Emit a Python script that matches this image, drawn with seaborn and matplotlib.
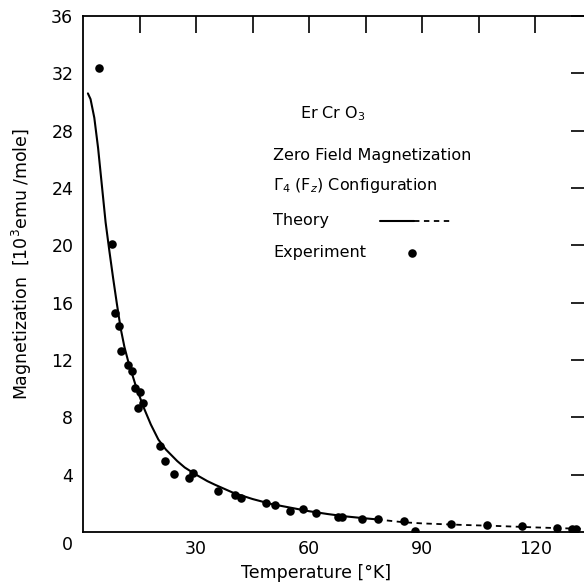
import matplotlib
matplotlib.use("Agg")
import matplotlib.pyplot as plt
import seaborn as sns
import pandas as pd
from matplotlib.ticker import FixedLocator

sns.set_theme(style="white")
plt.rcParams['font.family'] = ['DejaVu Sans']
plt.rcParams['text.color'] = 'black'
plt.rcParams['axes.labelcolor'] = 'black'

# Experimental points (temperature K, magnetization 10^3 emu/mole)
exp_T = [4.2, 7.6, 8.5, 9.6, 10.1, 11.9, 13.1, 13.9, 15.2, 14.5, 15.9,
         20.3, 21.8, 24.2, 28.0, 29.1, 35.8, 40.2, 41.9, 48.6, 51.0,
         54.8, 58.3, 61.9, 67.6, 68.7, 74.1, 78.2, 85.1, 88.2,
         97.7, 107.2, 116.4, 125.8, 129.8, 130.8]
exp_M = [32.4, 20.07, 15.26, 14.37, 12.63, 11.65, 11.26, 10.02, 9.79, 8.67, 8.98,
         6.0, 4.98, 4.05, 3.74, 4.14, 2.84, 2.58, 2.35, 2.05, 1.90,
         1.49, 1.58, 1.30, 1.07, 1.07, 0.93, 0.88, 0.77, 0.07,
         0.53, 0.46, 0.44, 0.30, 0.19, 0.19]

# Theory curve (solid part)
th_T = [1.3, 2.0, 3.0, 4.0, 5.0, 6.0, 7.0, 8.0, 9.0, 10.0, 11.0, 12.0, 14.0,
        16.0, 18.0, 20.0, 22.0, 25.0, 27.0, 30.0, 33.0, 35.0, 40.0, 45.0, 50.0,
        55.0, 60.0, 65.0, 70.0, 75.0, 78.0]
th_M = [30.6, 30.2, 28.9, 26.8, 24.2, 21.6, 19.6, 17.7, 15.9, 14.2, 12.9, 11.9, 10.2,
        8.75, 7.5, 6.45, 5.75, 4.95, 4.5, 4.0, 3.55, 3.3, 2.72, 2.3, 1.95,
        1.7, 1.45, 1.25, 1.08, 0.95, 0.88]
# Theory curve (dashed extension)
thd_T = [78.0, 85.0, 90.0, 100.0, 110.0, 120.0, 130.0, 134.0]
thd_M = [0.88, 0.68, 0.60, 0.50, 0.42, 0.32, 0.24, 0.22]

x_ticklabels = ["30", "60", "90", "120"]
y_ticklabels = ["4", "8", "12", "16", "20", "24", "28", "32", "36"]

fig = plt.figure(figsize=(5.84, 5.85), dpi=100)
ax = fig.add_axes([83/584, 1-532/585, (588-83)/584, (532-16)/585])

df_exp = pd.DataFrame({"T": exp_T, "M": exp_M})
df_th = pd.DataFrame({"T": th_T, "M": th_M})
df_thd = pd.DataFrame({"T": thd_T, "M": thd_M})

sns.lineplot(data=df_th, x="T", y="M", ax=ax, color="black", lw=1.5,
             sort=False, estimator=None)
sns.lineplot(data=df_thd, x="T", y="M", ax=ax, color="black", lw=1.3,
             sort=False, estimator=None, linestyle=(0, (3, 2.5)))
sns.scatterplot(data=df_exp, x="T", y="M", ax=ax, color="black", s=38,
                edgecolor="black", linewidth=0, zorder=5)

ax.set_xlim(0, 134)
ax.set_ylim(0, 36)

ax.xaxis.set_major_locator(FixedLocator([30, 60, 90, 120]))
ax.set_xticklabels(x_ticklabels)
ax.xaxis.set_minor_locator(FixedLocator([15, 45, 75, 105]))
ax.yaxis.set_major_locator(FixedLocator([4, 8, 12, 16, 20, 24, 28, 32, 36]))
ax.set_yticklabels(y_ticklabels)

ax.tick_params(axis='both', which='both', direction='in', length=12, width=1.2,
               colors='black', labelsize=12.5, top=True, right=True)
ax.tick_params(axis='y', which='both', pad=7)
ax.tick_params(axis='x', which='both', pad=6)

for side in ['left', 'bottom', 'top', 'right']:
    ax.spines[side].set_color('black')
    ax.spines[side].set_linewidth(1.3)

ax.text(-0.03, -0.026, "0", transform=ax.transAxes, ha='center', va='center',
        fontsize=12.5)

ax.set_xlabel("Temperature [°K]", fontsize=12.5, va='center')
ax.xaxis.set_label_coords((316-83)/(588-83), -(573-532)/516)
ax.set_ylabel("Magnetization  [10$^3$emu /mole]", fontsize=12.5, va='center')
ax.yaxis.set_label_coords(-(83-22)/505, 0.52)

fs = 11.5
ax.text(57.6, 29.2, "Er Cr O$_3$", fontsize=fs, va='center', ha='left')
ax.text(50.4, 26.3, "Zero Field Magnetization", fontsize=fs, va='center', ha='left')
ax.text(50.4, 24.2, "$\\Gamma_4$ (F$_z$) Configuration", fontsize=fs, va='center', ha='left')
ax.text(50.4, 21.7, "Theory", fontsize=fs, va='center', ha='left')
ax.text(50.4, 19.5, "Experiment", fontsize=fs, va='center', ha='left')
ax.plot([78.9, 87.9], [21.7, 21.7], color='black', lw=1.5)
ax.plot([87.9, 98.0], [21.7, 21.7], color='black', lw=1.3, linestyle=(0, (3, 2.5)))
ax.scatter([87.3], [19.5], color='black', s=38, linewidth=0)

fig.savefig("out.png", dpi=100)
